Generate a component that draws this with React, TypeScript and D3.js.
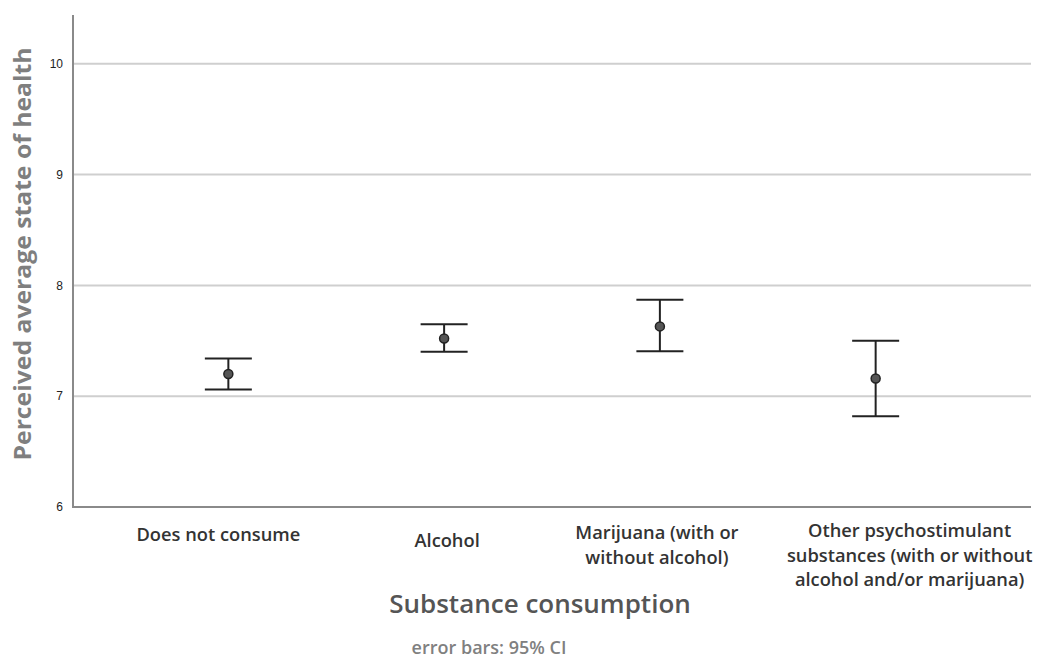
import React from "react";
import * as d3 from "d3";

const categories = ["Does not consume", "Alcohol", "Marijuana (with or without alcohol)", "Other psychostimulant substances (with or without alcohol and/or marijuana)"];
const categoryLines = [
  ["Does not consume"],
  ["Alcohol"],
  ["Marijuana (with or", "without alcohol)"],
  ["Other psychostimulant", "substances (with or without", "alcohol and/or marijuana)"],
];
const means = [7.2, 7.52, 7.63, 7.16];
const ciLow = [7.06, 7.4, 7.405, 6.82];
const ciHigh = [7.34, 7.65, 7.87, 7.5];
const yTicks = [6, 7, 8, 9, 10];

const W = 1038;
const H = 660;
const left = 73;
const right = 1031;
const top = 15;
const bottom = 507;

export default function App() {
  const y = d3.scaleLinear().domain([6, 10.44]).range([bottom, top]);
  const x = d3.scalePoint<string>().domain(categories).range([left, right]).padding(0.72);
  const labelDy = [34, 40, 32, 30];
  const labelDx = [-10, 3, -3, 34];
  const capW = 47;
  const sans = "'Open Sans', 'DejaVu Sans', sans-serif";
  return (
    <svg width={W} height={H} style={{ position: "absolute", left: 0, top: 0, background: "#fff" }}>
      <rect x={0} y={0} width={W} height={H} fill="#fff" />
      {yTicks.filter((t) => t > 6).map((t) => (
        <line key={"g" + t} x1={left} x2={right} y1={y(t)} y2={y(t)} stroke="#cfcfcf" strokeWidth={2} />
      ))}
      <line x1={left} x2={right} y1={bottom} y2={bottom} stroke="#8a8a8a" strokeWidth={2} />
      <line x1={left} x2={left} y1={top} y2={bottom + 1} stroke="#8a8a8a" strokeWidth={2} />
      {yTicks.map((t) => (
        <text key={"t" + t} x={63} y={y(t)} dy="0.35em" textAnchor="end" fontFamily="'Liberation Sans', Arial, sans-serif" fontSize={12} fill="#222">
          {t}
        </text>
      ))}
      {categories.map((c, i) => {
        const cx = x(c)!;
        const lx = cx + labelDx[i];
        return (
          <g key={c}>
            <line x1={cx} x2={cx} y1={y(ciLow[i])} y2={y(ciHigh[i])} stroke="#222" strokeWidth={2} />
            <line x1={cx - capW / 2} x2={cx + capW / 2} y1={y(ciLow[i])} y2={y(ciLow[i])} stroke="#222" strokeWidth={2} />
            <line x1={cx - capW / 2} x2={cx + capW / 2} y1={y(ciHigh[i])} y2={y(ciHigh[i])} stroke="#222" strokeWidth={2} />
            <circle cx={cx} cy={y(means[i])} r={4.5} fill="#555" stroke="#222" strokeWidth={1.5} />
            <text x={lx} y={bottom + labelDy[i]} textAnchor="middle" fontFamily={sans} fontWeight={600} fontSize={18.3} fill="#333">
              {categoryLines[i].map((l, j) => (
                <tspan key={j} x={lx} dy={j === 0 ? 0 : 24.5}>{l}</tspan>
              ))}
            </text>
          </g>
        );
      })}
      <text transform={`translate(31,254) rotate(-90)`} textAnchor="middle" fontFamily={sans} fontWeight={700} fontSize={24} fill="#7f7f7f" textLength={413} lengthAdjust="spacingAndGlyphs">
        Perceived average state of health
      </text>
      <text x={540} y={613} textAnchor="middle" fontFamily={sans} fontWeight={600} fontSize={26} fill="#555">
        Substance consumption
      </text>
      <text x={489} y={654} textAnchor="middle" fontFamily={sans} fontWeight={600} fontSize={18} fill="#808080">
        error bars: 95% CI
      </text>
    </svg>
  );
}
